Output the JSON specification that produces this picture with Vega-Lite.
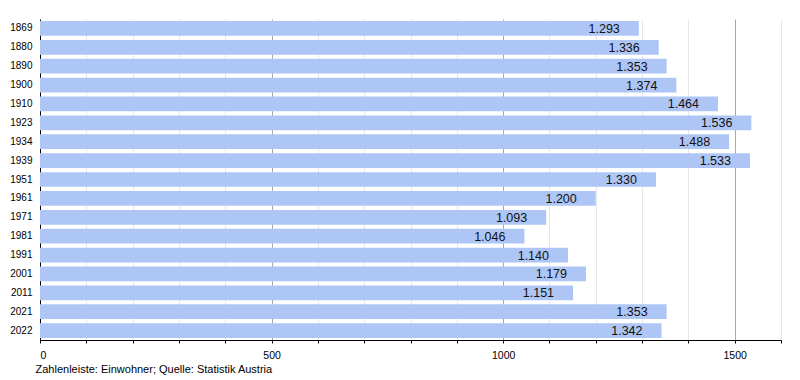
{
  "$schema": "https://vega.github.io/schema/vega-lite/v6.json",
  "autosize": {"type": "none"},
  "padding": {"left": 40, "top": 19, "right": 19, "bottom": 40},
  "width": 741,
  "height": 321,
  "background": "white",
  "config": {
    "locale": {"number": {"decimal": ",", "thousands": ".", "grouping": [3], "currency": ["", " €"]}},
    "view": {"stroke": null},
    "font": "Liberation Sans"
  },
  "data": {"values": [
    {"year": "1869", "value": 1293},
    {"year": "1880", "value": 1336},
    {"year": "1890", "value": 1353},
    {"year": "1900", "value": 1374},
    {"year": "1910", "value": 1464},
    {"year": "1923", "value": 1536},
    {"year": "1934", "value": 1488},
    {"year": "1939", "value": 1533},
    {"year": "1951", "value": 1330},
    {"year": "1961", "value": 1200},
    {"year": "1971", "value": 1093},
    {"year": "1981", "value": 1046},
    {"year": "1991", "value": 1140},
    {"year": "2001", "value": 1179},
    {"year": "2011", "value": 1151},
    {"year": "2021", "value": 1353},
    {"year": "2022", "value": 1342}
  ]},
  "encoding": {
    "y": {
      "field": "year", "type": "nominal", "sort": null,
      "scale": {"paddingInner": 0.22, "paddingOuter": 0.11},
      "axis": {
        "title": null, "ticks": false, "domain": true, "domainColor": "#000", "domainWidth": 1,
        "labelFontSize": 10, "labelColor": "#000", "labelPadding": 8, "grid": false
      }
    }
  },
  "layer": [
    {
      "mark": {"type": "bar", "color": "#aec6f6"},
      "encoding": {
        "x": {
          "field": "value", "type": "quantitative",
          "scale": {"domain": [0, 1600], "nice": false},
          "axis": {
            "values": [0,100,200,300,400,500,600,700,800,900,1000,1100,1200,1300,1400,1500,1600],
            "format": "d",
            "labelExpr": "datum.value % 500 === 0 ? datum.label : ''",
            "grid": true,
            "gridColor": {"condition": {"test": "datum.value % 500 === 0 && datum.value > 0", "value": "#a8a8a8"}, "value": "#e6e6e6"},
            "domainColor": "#000", "tickColor": "#000", "tickSize": 3,
            "labelFontSize": 10.5, "labelColor": "#000", "labelPadding": 7,
            "title": "Zahlenleiste: Einwohner; Quelle: Statistik Austria",
            "titleFontSize": 11, "titleFontWeight": "normal", "titleColor": "#000",
            "titleAnchor": "start", "titleAlign": "left", "titleBaseline": "top",
            "titleX": -5, "titleY": 23
          }
        }
      }
    },
    {
      "mark": {"type": "text", "align": "right", "baseline": "middle", "dx": -19, "dy": 0.5, "fontSize": 12.5, "color": "#111"},
      "encoding": {
        "x": {"field": "value", "type": "quantitative"},
        "text": {"field": "value", "type": "quantitative", "format": ",d"}
      }
    }
  ]
}
